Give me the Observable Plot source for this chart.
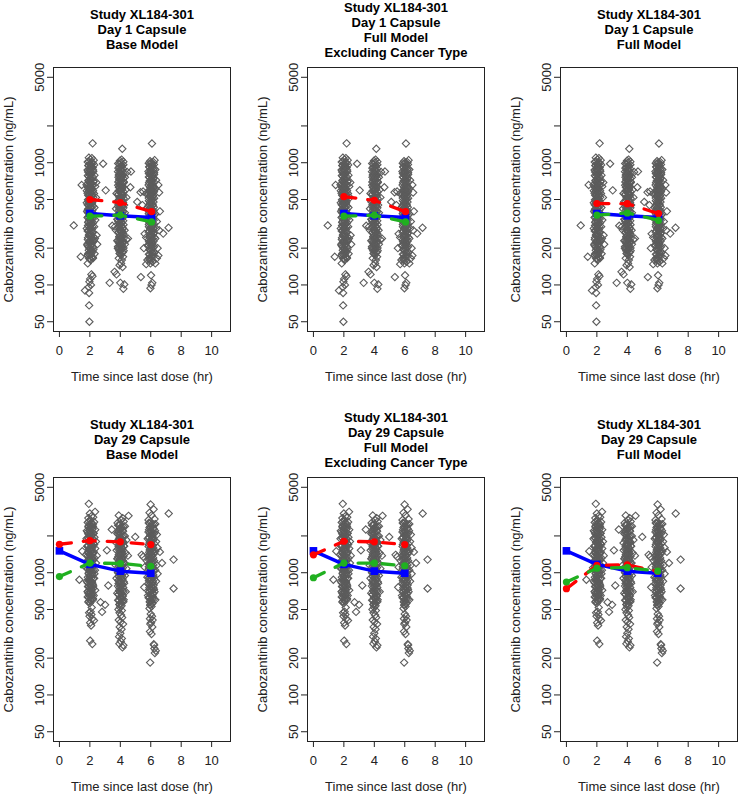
<!DOCTYPE html>
<html><head><meta charset="utf-8">
<script src="https://cdn.jsdelivr.net/npm/d3@7"></script>
<script src="https://cdn.jsdelivr.net/npm/@observablehq/plot@0.6"></script>
<style>
body{margin:0;background:#fff;}
#wrap{position:relative;width:738px;height:794px;overflow:hidden;background:#fff;font-family:"Liberation Sans",Arial,sans-serif;}
#wrap svg{position:absolute;}
</style></head><body><div id="wrap"></div>
<script>
// ---------- axis ticks ----------
const xTicks = [0, 2, 4, 6, 8, 10];
const yTicks = [50, 100, 200, 500, 1000, 2000, 5000];
const yTickLabels = ["50", "100", "200", "500", "1000", "", "5000"];
const xLabel = "Time since last dose (hr)";
const yLabel = "Cabozantinib concentration (ng/mL)";

// ---------- titles ----------
const titlesDay1 = [
  "Study XL184-301\nDay 1 Capsule\nBase Model",
  "Study XL184-301\nDay 1 Capsule\nFull Model\nExcluding Cancer Type",
  "Study XL184-301\nDay 1 Capsule\nFull Model"
];
const titlesDay29 = [
  "Study XL184-301\nDay 29 Capsule\nBase Model",
  "Study XL184-301\nDay 29 Capsule\nFull Model\nExcluding Cancer Type",
  "Study XL184-301\nDay 29 Capsule\nFull Model"
];

// ---------- observed concentrations, Day 1 [time, conc] ----------
const obsDay1_2h = [
[2.03,1060],[1.94,1030],[2.12,1000],[1.98,975],[1.9,950],[2.08,925],[2.15,905],[1.96,885],[2.04,860],[1.89,840],[2.1,815],[2.0,795],[1.93,770],[2.13,750],[2.05,730],[1.9,712],[1.99,694],[2.11,676],[1.95,660],[2.06,642],[1.88,628],[2.14,612],[2.01,598],[1.93,583],[2.09,569],[1.97,556],[1.89,542],[2.12,530],[2.03,517],[1.95,505],[2.07,493],[1.9,481],[2.15,470],[2.0,458],[1.94,448],[2.1,437],[2.04,426],[1.88,416],[1.98,406],[2.13,396],[1.92,387],[2.06,377],[2.0,368],[1.9,359],[2.11,350],[1.96,341],[2.05,333],[1.89,325],[2.14,317],[2.01,309],[1.94,301],[2.08,293],[1.99,286],[1.9,278],[2.12,271],[2.03,264],[1.95,257],[2.07,250],[1.88,243],[2.15,236],[2.0,230],[1.93,223],[2.1,217],[2.04,211],[1.91,205],[1.98,199],[2.12,193],[2.06,187],[1.9,181],[2.01,175],[2.14,170],[1.95,165],[2.05,160],
[1.86,1015],[2.2,990],[2.07,968],[1.92,945],[2.18,912],[2.01,893],[1.85,872],[2.22,848],[1.97,828],[2.09,808],[1.87,785],[2.19,763],[2.02,742],[1.94,722],[2.23,703],[2.08,686],[1.86,668],[2.17,651],[1.99,636],[2.1,620],[1.91,605],[2.21,590],[2.04,576],[1.85,562],[2.16,548],[1.96,536],[2.22,523],[2.06,510],[1.88,498],[2.18,487],[1.99,475],[2.11,463],[1.86,452],[2.2,442],[2.03,432],[1.93,421],[2.17,411],[2.08,402],[1.87,392],[2.22,383],[1.97,374],[2.12,365],[1.85,356],[2.19,347],[2.04,338],[1.92,330],[2.21,322],[2.09,314],[1.88,306],[2.17,298],[1.99,291],[2.13,283],[1.86,276],[2.2,269],[2.02,262],[1.94,255],[2.23,248],[2.08,242],[1.87,235],[2.18,229],[1.98,222],[2.11,216],[1.85,210],[2.21,204],[2.05,198],[1.93,192],[2.16,186],[2.08,180],[1.88,174],[2.19,168],[2.0,163],
[2.18,1440],[2.13,1090],[1.93,1100],[2.25,1050],[2.28,960],[2.21,870],[2.3,790],[2.24,700],[2.42,690],[2.35,640],[1.78,660],[1.8,590],[2.27,560],[2.4,520],[1.8,470],[2.3,430],[2.22,380],[1.82,400],[2.36,340],[2.28,300],[1.8,290],[2.44,255],[2.33,240],[2.26,228],[2.48,215],[1.83,215],[2.23,195],[2.31,180],[1.85,175],[2.2,165],[1.86,150],[2.1,122],[2.17,118],[2.02,112],[1.97,106],[2.07,100],[1.92,96],[1.68,90],[1.95,86],[1.95,68],[1.97,50],[1.46,658],[0.94,307],[1.4,170],[2.87,981],[3.04,594]
];
const obsDay1_4h = [
[4.02,1000],[3.94,975],[4.1,950],[3.98,925],[3.88,900],[4.07,878],[4.15,855],[3.95,833],[4.04,812],[3.9,792],[4.12,772],[4.0,752],[3.93,733],[4.08,714],[3.87,696],[4.16,678],[3.97,661],[4.05,645],[3.91,629],[4.11,613],[4.01,598],[3.94,583],[4.09,568],[3.89,554],[4.14,540],[3.99,527],[4.06,514],[3.92,501],[4.13,488],[4.03,476],[3.96,464],[3.88,452],[4.1,441],[4.0,430],[3.93,419],[4.07,408],[4.15,398],[3.95,388],[4.04,378],[3.9,368],[4.12,359],[3.98,350],[4.05,341],[3.87,332],[4.1,323],[4.0,315],[3.94,307],[4.08,299],[4.16,291],[3.96,283],[4.03,276],[3.89,268],[4.11,261],[4.01,254],[3.93,247],[4.06,240],[3.98,233],[4.14,227],[3.91,221],[4.04,215],[3.97,209],[4.09,203],[3.9,197],[4.02,191],[4.12,186],[3.95,181],[4.05,176],
[3.86,985],[4.2,962],[4.06,938],[3.91,914],[4.18,890],[4.0,866],[3.85,845],[4.22,822],[3.96,802],[4.1,782],[3.88,762],[4.19,743],[4.03,724],[3.93,706],[4.23,688],[4.07,671],[3.86,654],[4.17,638],[3.98,622],[4.11,606],[3.9,591],[4.21,577],[4.05,562],[3.85,548],[4.16,535],[3.95,522],[4.22,509],[4.06,497],[3.88,485],[4.18,473],[3.99,461],[4.12,450],[3.86,439],[4.2,428],[4.02,418],[3.92,408],[4.17,398],[4.08,388],[3.87,379],[4.22,370],[3.97,361],[4.13,352],[3.85,343],[4.19,335],[4.04,327],[3.92,319],[4.21,311],[4.09,303],[3.88,296],[4.17,289],[3.99,282],[4.12,275],[3.86,268],[4.2,261],[4.02,255],[3.94,249],[4.23,242],[4.07,236],[3.87,230],[4.18,224],[3.98,218],[4.11,212],[3.85,206],[4.21,201],[4.05,195],[3.93,190],[4.16,185],[4.0,180],
[4.13,1300],[3.98,1040],[4.2,1020],[4.08,1060],[4.45,840],[4.7,847],[4.3,760],[4.22,700],[4.66,630],[4.35,600],[3.75,560],[4.4,520],[3.8,480],[4.25,450],[3.72,420],[4.3,390],[3.8,345],[3.65,300],[3.47,305],[3.72,280],[4.28,280],[4.4,235],[4.5,240],[3.8,230],[4.3,215],[3.84,200],[4.22,190],[4.18,170],[3.9,165],[4.1,160],[4.05,150],[3.95,145],[4.15,140],[3.62,128],[3.75,122],[4.0,104],[3.3,104],[4.26,101],[4.2,93]
];
const obsDay1_6h = [
[6.03,1000],[5.95,975],[6.12,950],[5.9,925],[6.06,900],[6.16,878],[5.97,856],[6.01,835],[5.88,815],[6.1,795],[6.04,775],[5.93,756],[6.14,737],[5.99,719],[6.07,702],[5.89,685],[6.11,668],[6.02,652],[5.94,637],[6.17,622],[5.98,607],[6.05,593],[5.9,579],[6.13,565],[6.0,552],[5.95,539],[6.09,526],[5.87,514],[6.15,502],[6.03,490],[5.96,479],[6.08,467],[5.91,456],[6.12,446],[6.0,436],[5.94,426],[6.06,416],[6.16,406],[5.89,397],[6.02,388],[6.1,379],[5.97,370],[6.04,361],[5.92,352],[6.13,344],[6.0,336],[5.95,328],[6.08,320],[5.88,312],[6.15,305],[6.03,297],[5.96,290],[6.1,283],[5.91,276],[6.05,269],[6.17,263],[5.99,256],[6.07,250],[5.93,244],[6.12,238],[6.01,232],[5.89,226],[6.09,220],[5.97,214],[6.04,208],[6.14,202],[5.92,196],[6.0,190],[6.1,184],[5.95,178],[6.06,172],[5.9,166],[6.02,160],[6.12,155],[5.98,150],
[5.87,990],[6.21,966],[6.05,942],[5.92,918],[6.19,894],[6.0,870],[5.85,848],[6.22,826],[5.97,805],[6.11,785],[5.88,765],[6.18,746],[6.03,727],[5.93,709],[6.23,691],[6.08,674],[5.86,657],[6.17,641],[5.99,625],[6.12,610],[5.9,595],[6.21,580],[6.04,566],[5.85,552],[6.16,539],[5.96,526],[6.22,513],[6.07,501],[5.88,489],[6.18,477],[5.98,466],[6.12,454],[5.86,443],[6.2,433],[6.02,422],[5.92,412],[6.17,402],[6.09,392],[5.87,383],[6.22,374],[5.97,365],[6.13,356],[5.85,347],[6.19,339],[6.04,331],[5.91,323],[6.21,315],[6.08,307],[5.88,300],[6.17,292],[5.99,285],[6.13,278],[5.86,271],[6.2,265],[6.02,258],[5.94,252],[6.23,246],[6.07,240],[5.87,234],[6.18,228],[5.98,222],[6.11,216],[5.85,211],[6.21,205],[6.05,200],[5.93,194],[6.16,189],[6.08,183],[5.88,178],[6.19,172],[6.0,167],[5.92,161],[6.13,156],
[6.08,1436],[6.25,1050],[6.18,1010],[5.95,1030],[6.3,880],[6.22,800],[6.35,720],[6.5,658],[6.28,620],[6.55,570],[5.5,582],[5.33,573],[5.7,560],[5.11,478],[5.45,450],[5.8,430],[6.6,400],[6.3,380],[5.75,350],[6.4,330],[6.35,290],[6.56,280],[6.82,263],[7.17,294],[5.6,262],[5.7,245],[6.3,240],[5.55,200],[5.8,210],[6.45,200],[6.25,185],[6.5,174],[5.78,160],[6.4,165],[6.3,150],[5.7,148],[6.02,120],[5.35,116],[6.1,104],[6.05,100],[5.98,94]
];

// ---------- observed concentrations, Day 29 [time, conc] ----------
const obsDay29_2h = [
[2.02,2700],[1.94,2620],[2.1,2540],[1.98,2470],[1.9,2400],[2.07,2330],[2.15,2265],[1.96,2200],[2.04,2140],[1.89,2080],[2.12,2025],[2.0,1970],[1.93,1915],[2.08,1865],[2.14,1815],[1.97,1765],[2.05,1718],[1.9,1672],[2.11,1628],[2.01,1585],[1.95,1543],[2.09,1502],[1.88,1462],[2.16,1424],[2.03,1386],[1.96,1350],[2.07,1314],[1.91,1280],[2.13,1246],[2.0,1213],[1.94,1181],[2.06,1150],[1.89,1120],[2.11,1090],[2.02,1062],[1.97,1034],[2.15,1007],[1.92,980],[2.05,955],[1.99,930],[2.1,905],[1.9,882],[2.03,859],[2.14,836],[1.95,814],[2.07,793],[1.88,772],[2.01,752],[2.12,732],[1.96,713],[2.05,694],[1.91,676],[2.09,658],[2.0,641],[1.94,624],[2.13,608],[2.04,592],[1.9,577],[1.99,562],
[1.86,2580],[2.2,2500],[2.06,2430],[1.92,2360],[2.18,2290],[2.01,2225],[1.85,2160],[2.22,2100],[1.97,2045],[2.09,1990],[1.87,1935],[2.19,1885],[2.03,1835],[1.94,1787],[2.23,1740],[2.08,1694],[1.86,1650],[2.17,1606],[1.99,1565],[2.11,1524],[1.91,1484],[2.21,1445],[2.04,1407],[1.85,1370],[2.16,1334],[1.96,1300],[2.22,1266],[2.06,1232],[1.88,1200],[2.18,1168],[1.99,1138],[2.12,1108],[1.86,1079],[2.2,1050],[2.03,1023],[1.93,996],[2.17,970],[2.08,944],[1.87,919],[2.22,895],[1.97,872],[2.12,849],[1.85,826],[2.19,805],[2.04,784],[1.92,763],[2.21,743],[2.09,723],[1.88,704],[2.17,686],[1.99,668],[2.13,650],[1.86,633],[2.2,616],[2.02,600],[1.94,585],
[1.93,3660],[2.34,3150],[2.0,3050],[2.1,2900],[2.22,2850],[1.9,2800],[2.28,2600],[2.2,2400],[2.35,2250],[1.8,2200],[2.25,2100],[2.3,1950],[1.78,1900],[2.4,1800],[2.28,1700],[1.82,1650],[2.35,1580],[2.25,1480],[1.5,1500],[1.75,1400],[2.45,1380],[2.3,1320],[2.4,1200],[1.8,1220],[2.25,1150],[1.75,1100],[2.33,1050],[2.3,980],[1.31,876],[2.28,900],[1.8,850],[2.22,780],[2.35,720],[1.85,700],[2.25,650],[2.7,574],[2.2,600],[2.12,520],[2.05,480],[1.95,470],[2.1,455],[1.98,440],[2.15,420],[2.27,406],[2.02,390],[2.08,370],[2.8,478],[3.0,546],[2.02,278],[2.16,261]
];
const obsDay29_4h = [
[4.0,2500],[3.92,2430],[4.09,2360],[3.97,2290],[4.15,2225],[3.88,2160],[4.04,2100],[3.95,2040],[4.11,1985],[4.01,1930],[3.9,1875],[4.07,1825],[4.16,1775],[3.96,1727],[4.03,1680],[3.89,1635],[4.12,1591],[3.99,1548],[4.06,1506],[3.93,1466],[4.14,1427],[4.02,1389],[3.87,1352],[4.09,1316],[3.97,1281],[4.05,1247],[3.91,1214],[4.13,1182],[4.0,1151],[3.94,1121],[4.08,1092],[3.88,1063],[4.16,1035],[4.03,1008],[3.96,982],[4.1,956],[3.9,931],[4.01,907],[4.14,883],[3.95,860],[4.06,838],[3.89,816],[4.11,795],[4.0,775],[3.93,755],[4.07,735],[4.15,716],[3.97,698],[4.04,680],[3.9,662],[4.12,645],[3.99,628],[4.05,612],[3.92,596],[4.1,580],[4.02,565],[3.95,550],[4.08,536],[3.98,522],
[3.86,2450],[4.2,2380],[4.06,2310],[3.91,2245],[4.18,2180],[4.0,2120],[3.85,2060],[4.22,2002],[3.96,1948],[4.1,1895],[3.88,1843],[4.19,1793],[4.03,1745],[3.93,1698],[4.23,1652],[4.07,1608],[3.86,1565],[4.17,1523],[3.98,1482],[4.11,1443],[3.9,1404],[4.21,1367],[4.05,1330],[3.85,1295],[4.16,1260],[3.95,1227],[4.22,1194],[4.06,1162],[3.88,1132],[4.18,1102],[3.99,1072],[4.12,1044],[3.86,1016],[4.2,989],[4.02,963],[3.92,937],[4.17,912],[4.08,888],[3.87,865],[4.22,842],[3.97,820],[4.13,798],[3.85,777],[4.19,757],[4.04,737],[3.92,717],[4.21,698],[4.09,680],[3.88,662],[4.17,645],[3.99,628],[4.12,611],[3.86,595],[4.2,579],[4.02,564],[3.94,549],
[3.9,2940],[4.54,2920],[4.15,2800],[4.05,2700],[4.22,2620],[3.82,2550],[4.3,2400],[4.98,1963],[3.44,2256],[3.8,2100],[4.3,2000],[4.4,1850],[3.75,1750],[4.25,1650],[3.12,1525],[3.76,1525],[4.35,1450],[4.5,1380],[3.8,1300],[4.28,1200],[3.7,1150],[4.4,1080],[3.85,1000],[4.3,950],[3.75,900],[4.25,820],[3.21,787],[4.35,700],[3.8,680],[4.22,600],[3.88,500],[4.1,490],[3.95,470],[4.05,450],[4.12,430],[3.9,410],[4.02,395],[4.18,380],[3.96,360],[4.08,345],[4.0,320],[3.92,300],[4.1,290],[4.03,275],[3.94,262],[4.2,255],[4.14,245]
];
const obsDay29_6h = [
[6.0,2600],[5.93,2520],[6.1,2450],[5.97,2380],[6.16,2310],[5.89,2245],[6.05,2180],[5.95,2120],[6.12,2060],[6.02,2005],[5.9,1950],[6.08,1898],[6.15,1848],[5.96,1799],[6.04,1751],[5.88,1705],[6.11,1660],[6.0,1616],[6.07,1573],[5.93,1532],[6.14,1492],[6.03,1453],[5.91,1415],[6.09,1378],[5.98,1342],[6.06,1307],[5.89,1273],[6.13,1240],[6.01,1208],[5.94,1177],[6.08,1147],[5.87,1117],[6.16,1088],[6.04,1060],[5.97,1032],[6.11,1005],[5.9,979],[6.02,954],[6.15,929],[5.95,905],[6.07,882],[5.88,859],[6.12,837],[6.0,815],[5.93,794],[6.06,773],[6.17,753],[5.96,734],[6.05,715],[5.9,696],[6.13,678],[5.99,661],[6.04,644],[5.92,627],[6.1,611],[6.01,595],[5.95,580],[6.09,565],[5.98,550],[6.05,530],[5.92,510],
[5.87,2550],[6.21,2480],[6.05,2410],[5.92,2340],[6.19,2275],[6.0,2210],[5.85,2150],[6.22,2090],[5.97,2035],[6.11,1980],[5.88,1925],[6.18,1875],[6.03,1825],[5.93,1776],[6.23,1729],[6.08,1683],[5.86,1638],[6.17,1595],[5.99,1553],[6.12,1512],[5.9,1472],[6.21,1433],[6.04,1395],[5.85,1358],[6.16,1322],[5.96,1287],[6.22,1253],[6.07,1220],[5.88,1188],[6.18,1156],[5.98,1126],[6.12,1096],[5.86,1067],[6.2,1039],[6.02,1011],[5.92,984],[6.17,958],[6.09,933],[5.87,908],[6.22,884],[5.97,861],[6.13,838],[5.85,816],[6.19,794],[6.04,773],[5.91,753],[6.21,733],[6.08,714],[5.88,695],[6.17,677],[5.99,659],[6.13,641],[5.86,624],[6.2,608],[6.02,592],[5.94,576],[6.1,560],[5.97,540],
[5.99,3620],[6.19,3300],[5.92,3100],[6.05,2950],[6.25,2750],[5.85,2700],[6.3,2500],[7.18,3050],[6.28,2200],[6.4,2050],[5.8,1900],[6.35,1800],[6.6,1480],[6.45,1600],[5.4,1400],[5.5,1350],[6.3,1500],[6.74,1200],[5.75,1250],[6.38,1150],[5.6,1110],[6.3,1050],[6.45,980],[5.78,920],[6.35,850],[5.57,760],[7.5,1280],[7.5,743],[6.25,700],[5.82,650],[6.3,600],[6.0,460],[6.08,440],[5.95,420],[6.12,410],[6.02,390],[5.97,380],[6.1,360],[5.95,330],[6.05,315],[6.2,260],[6.22,256],[6.33,230],[6.27,220],[6.24,240],[5.96,184]
];

// ---------- summary lines ----------
const timesDay1 = [2.0, 4.0, 6.05];
const timesDay29 = [0, 2.0, 4.0, 6.0];

const blueDay1 = [384, 368, 356];
const redDay1Base = [500, 472, 398];
const greenDay1Base = [365, 372, 328];
const redDay1FullExcl = [527, 492, 398];
const greenDay1FullExcl = [365, 372, 328];
const redDay1Full = [464, 462, 384];
const greenDay1Full = [372, 388, 338];

const blueDay29 = [1510, 1170, 1030, 990];
const redDay29Base = [1710, 1830, 1790, 1700];
const greenDay29Base = [930, 1200, 1190, 1130];
const redDay29FullExcl = [1400, 1810, 1790, 1700];
const greenDay29FullExcl = [910, 1200, 1200, 1140];
const redDay29Full = [740, 1150, 1160, 1025];
const greenDay29Full = [840, 1090, 1100, 1030];

// ---------- build ----------
const obsDay1 = [...obsDay1_2h, ...obsDay1_4h, ...obsDay1_6h];
const obsDay29 = [...obsDay29_2h, ...obsDay29_4h, ...obsDay29_6h];
const series = (times, vals) => times.map((t, i) => ({t, c: vals[i]}));

const panels = [
  {row: 0, col: 0, title: titlesDay1[0], obs: obsDay1, times: timesDay1, red: redDay1Base, green: greenDay1Base, blue: blueDay1},
  {row: 0, col: 1, title: titlesDay1[1], obs: obsDay1, times: timesDay1, red: redDay1FullExcl, green: greenDay1FullExcl, blue: blueDay1},
  {row: 0, col: 2, title: titlesDay1[2], obs: obsDay1, times: timesDay1, red: redDay1Full, green: greenDay1Full, blue: blueDay1},
  {row: 1, col: 0, title: titlesDay29[0], obs: obsDay29, times: timesDay29, red: redDay29Base, green: greenDay29Base, blue: blueDay29},
  {row: 1, col: 1, title: titlesDay29[1], obs: obsDay29, times: timesDay29, red: redDay29FullExcl, green: greenDay29FullExcl, blue: blueDay29},
  {row: 1, col: 2, title: titlesDay29[2], obs: obsDay29, times: timesDay29, red: redDay29Full, green: greenDay29Full, blue: blueDay29}
];

const colLeft = [0, 254, 507];
const rowGeom = [
  {top: 0, height: 400, mt: 67, mb: 69},
  {top: 400, height: 394, mt: 77, mb: 53}
];
const FONT = "'Liberation Sans', Arial, Helvetica, sans-serif";
const wrap = document.getElementById("wrap");

for (const p of panels) {
  const g = rowGeom[p.row];
  const blue = series(p.times, p.blue);
  const red = series(p.times, p.red);
  const green = series(p.times, p.green);
  const chart = Plot.plot({
    width: 231,
    height: g.height,
    marginLeft: 53,
    marginRight: 1,
    marginTop: g.mt,
    marginBottom: g.mb,
    style: {fontFamily: FONT, fontSize: "13px", color: "#222", background: "transparent", overflow: "visible"},
    x: {domain: [-0.39, 11.24]},
    y: {type: "log", domain: [41.6, 6013]},
    marks: [
      Plot.frame({stroke: "#222", strokeWidth: 1}),
      Plot.axisX({ticks: xTicks, tickSize: 6, tickPadding: 8, label: null, fontSize: 13, stroke: "#222"}),
      Plot.axisY({ticks: yTicks, tickSize: 6, tickFormat: () => "", label: null, stroke: "#222"}),
      Plot.text(yTicks, {y: d => d, text: (d, i) => yTickLabels[i], frameAnchor: "left", dx: -14, rotate: -90, textAnchor: "middle", lineAnchor: "middle", fontSize: 13, fill: "#222"}),
      Plot.text([xLabel], {text: d => d, frameAnchor: "bottom", dy: 45, textAnchor: "middle", lineAnchor: "middle", fontSize: 13, fill: "#222"}),
      Plot.text([yLabel], {text: d => d, frameAnchor: "left", dx: -45, rotate: -90, textAnchor: "middle", lineAnchor: "middle", fontSize: 13, fill: "#222"}),
      Plot.text([p.title], {text: d => d, frameAnchor: "top", dy: -38, textAnchor: "middle", lineAnchor: "middle", lineHeight: 15 / 13, fontSize: 13, fontWeight: "bold", fill: "#000"}),
      Plot.dot(p.obs, {x: d => d[0], y: d => d[1], symbol: "diamond2", r: 3.3, stroke: "#5c5c5c", strokeWidth: 1.1, fill: "none"}),
      Plot.line(blue, {x: "t", y: "c", stroke: "#0000ff", strokeWidth: 3.5}),
      Plot.dot(blue, {x: "t", y: "c", symbol: "square", r: 4.3, fill: "#0000ff"}),
      Plot.line(red, {x: "t", y: "c", stroke: "#ff0000", strokeWidth: 3.3, strokeDasharray: "12,12", strokeLinecap: "round"}),
      Plot.dot(red, {x: "t", y: "c", r: 3.6, fill: "#ff0000"}),
      Plot.line(green, {x: "t", y: "c", stroke: "#20b020", strokeWidth: 3.3, strokeDasharray: "12,12", strokeLinecap: "round"}),
      Plot.dot(green, {x: "t", y: "c", r: 3.6, fill: "#20b020"})
    ]
  });
  chart.style.left = colLeft[p.col] + "px";
  chart.style.top = g.top + "px";
  wrap.appendChild(chart);
}
</script>
</body></html>
